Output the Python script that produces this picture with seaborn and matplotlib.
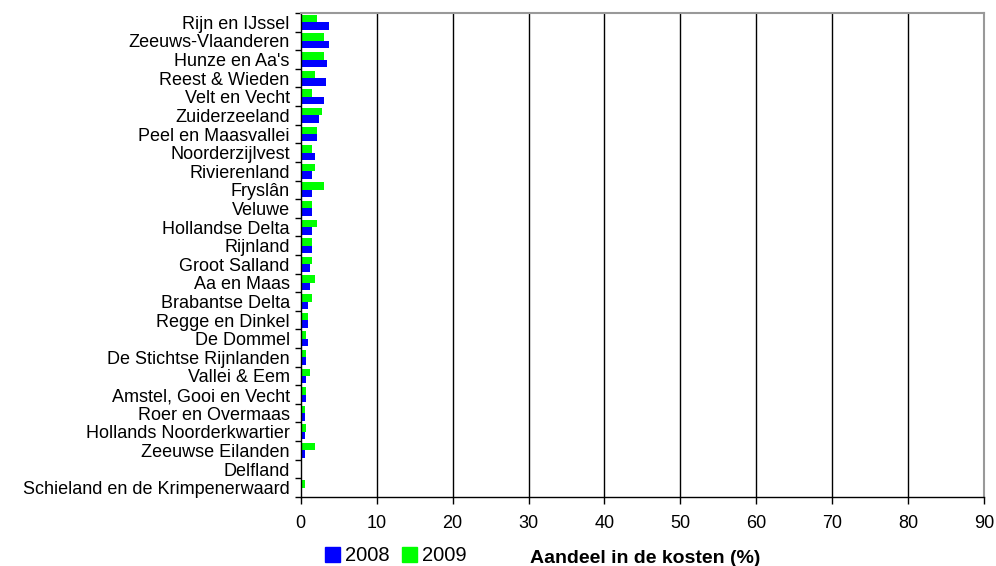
import matplotlib
matplotlib.use("Agg")
import matplotlib.pyplot as plt
import matplotlib.patches as mpatches
from matplotlib.ticker import FixedLocator
import seaborn as sns
import pandas as pd

categories = [
    "Rijn en IJssel", "Zeeuws-Vlaanderen", "Hunze en Aa's", "Reest & Wieden",
    "Velt en Vecht", "Zuiderzeeland", "Peel en Maasvallei", "Noorderzijlvest",
    "Rivierenland", "Fryslân", "Veluwe", "Hollandse Delta", "Rijnland",
    "Groot Salland", "Aa en Maas", "Brabantse Delta", "Regge en Dinkel",
    "De Dommel", "De Stichtse Rijnlanden", "Vallei & Eem",
    "Amstel, Gooi en Vecht", "Roer en Overmaas", "Hollands Noorderkwartier",
    "Zeeuwse Eilanden", "Delfland", "Schieland en de Krimpenerwaard",
]
values_2008 = [3.7, 3.7, 3.4, 3.3, 3.0, 2.4, 2.07, 1.85, 1.5, 1.45, 1.45, 1.45,
               1.45, 1.2, 1.2, 0.9, 0.9, 0.95, 0.75, 0.75, 0.75, 0.5, 0.5, 0.5,
               0.0, 0.0]
values_2009 = [2.07, 3.0, 3.0, 1.85, 1.5, 2.8, 2.07, 1.45, 1.85, 3.0, 1.5, 2.07,
               1.5, 1.5, 1.85, 1.45, 0.9, 0.75, 0.75, 1.2, 0.75, 0.5, 0.75, 1.85,
               0.0, 0.5]
series = ["2008", "2009"]
colors = {"2008": "#0000FF", "2009": "#00FF00"}
xticks = [0, 10, 20, 30, 40, 50, 60, 70, 80, 90]

df = pd.DataFrame({
    "cat": categories * 2,
    "val": values_2008 + values_2009,
    "year": ["2008"] * len(categories) + ["2009"] * len(categories),
})

sns.set_style("white")
plt.rcParams["font.family"] = ["Liberation Sans", "DejaVu Sans"]
plt.rcParams["text.color"] = "black"
plt.rcParams["xtick.color"] = "black"
plt.rcParams["ytick.color"] = "black"

fig = plt.figure(figsize=(9.96, 5.66), dpi=100)
ax = fig.add_axes([0.302, 0.122, 0.686, 0.855])

sns.barplot(data=df, y="cat", x="val", hue="year", hue_order=["2009", "2008"],
            palette=colors, order=categories, orient="h", width=0.8,
            saturation=1, ax=ax, legend=False, edgecolor="none", linewidth=0)

ax.set_xlim(0, 90)
ax.set_ylim(len(categories) - 0.5, -0.5)
ax.set_xticks(xticks)
ax.set_xticklabels([str(t) for t in xticks], fontsize=13)
ax.set_xlabel("")
ax.set_ylabel("")
ax.tick_params(axis="y", which="major", length=0, labelsize=13, pad=8,
               labelcolor="black")
ax.yaxis.set_minor_locator(FixedLocator([i - 0.5 for i in range(len(categories) + 1)]))
ax.tick_params(axis="y", which="minor", length=4, width=1, color="black",
               direction="out", left=True)
ax.tick_params(axis="x", which="major", length=5, width=1, color="black",
               direction="out", bottom=True, pad=8, labelcolor="black")

for t in xticks[1:-1]:
    ax.axvline(t, color="black", linewidth=1, zorder=0)

for side in ["left", "bottom"]:
    ax.spines[side].set_color("black")
    ax.spines[side].set_linewidth(1)
for side in ["top", "right"]:
    ax.spines[side].set_color("#999999")
    ax.spines[side].set_linewidth(1.5)
    ax.spines[side].set_visible(True)

handles = [mpatches.Patch(color=colors[s], label=s) for s in series]
fig.legend(handles=handles, loc="center left", bbox_to_anchor=(0.316, 0.018),
           ncol=2, frameon=False, fontsize=14.5, handlelength=0.75,
           handleheight=0.75, handletextpad=0.25, columnspacing=0.6, borderpad=0)

fig.text(0.648, 0.006, "Aandeel in de kosten (%)", ha="center", va="baseline",
         fontsize=14, fontweight="bold", color="black")

fig.savefig("out.png", dpi=100)
